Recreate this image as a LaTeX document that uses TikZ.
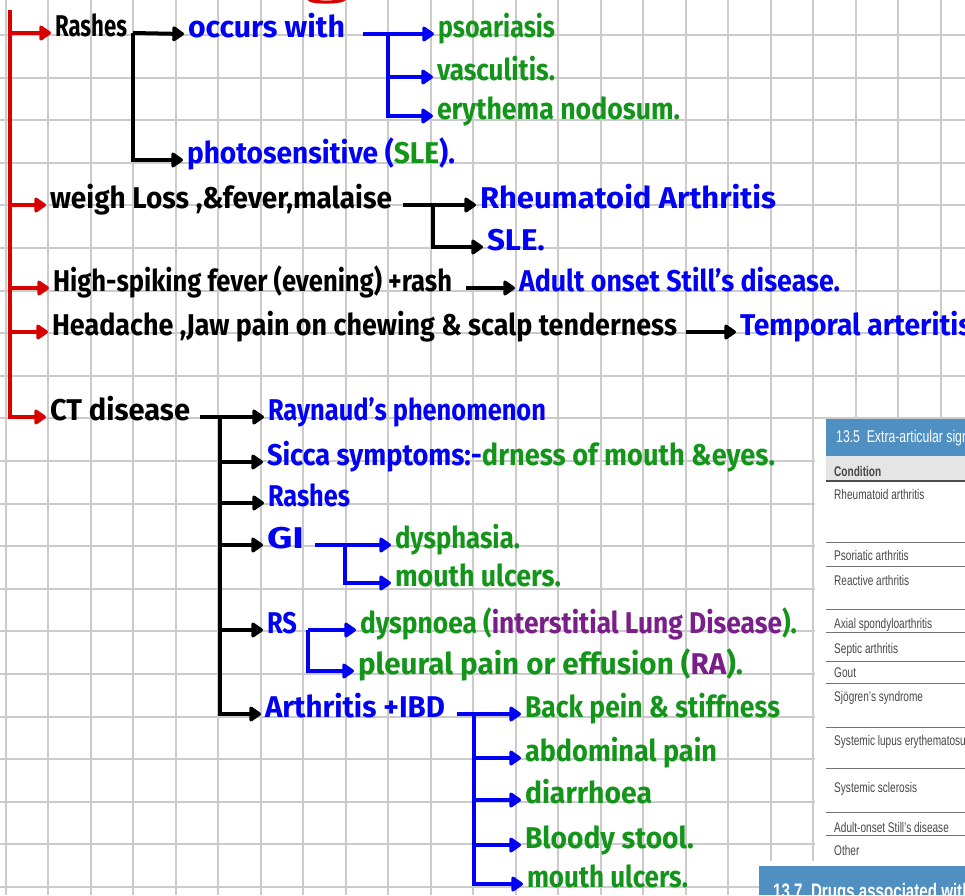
\documentclass[tikz,border=0pt]{standalone}
\usepackage{fontspec}
\usepackage{graphicx}
\usetikzlibrary{arrows.meta,calc,positioning}
\setmainfont{Fira Sans}
\newfontfamily\tablafont{Liberation Sans}[FakeStretch=0.72]
\definecolor{rojo}{HTML}{D90000}
\definecolor{azul}{HTML}{0000F5}
\definecolor{verde}{HTML}{13951A}
\definecolor{morado}{HTML}{7A1E8A}
\definecolor{rejilla}{HTML}{CBCBCB}
\definecolor{cabecera}{HTML}{4F8FC2}
\definecolor{tinta}{HTML}{474747}
\newcommand{\ancho}[2]{\resizebox{#1pt}{\height}{#2}}

\begin{document}
\begin{tikzpicture}[x=1pt, y=-1pt, >={Triangle[length=13pt,width=17pt,round]},
    texto/.style={anchor=west, inner sep=0pt, outer sep=4pt, text height=6pt, text depth=0pt,
                  font=\bfseries\fontsize{30}{32}\selectfont},
    flecha/.style={->, line width=4pt},
    roja/.style={->, line width=4pt, rojo},
    celda/.style={anchor=base west, inner sep=0pt, text=tinta,
                  font=\tablafont\fontsize{14}{16}\selectfont}]
  \useasboundingbox (0,0) rectangle (965,895);
  \clip (0,0) rectangle (965,895);
  \fill[white] (0,0) rectangle (965,895);
  % rejilla del cuaderno
  \foreach \i in {0,...,22}
    \draw[rejilla, line width=2pt] ({5.5+42.5*\i},0) -- ++(0,895);
  \foreach \j in {-1,...,20}
    \draw[rejilla, line width=2pt] (0,{35+42.6*\j}) -- ++(965,0);

  % recorte de la tabla 13.5
  \fill[white] (815,419) rectangle (965,863);
  \fill[cabecera] (826,419) rectangle (965,456);
  \fill[black!10] (826,456) rectangle (965,481);
  \node[celda, text=white, font=\tablafont\fontsize{17}{19}\selectfont] (t135) at (836,442) {13.5\ \ Extra-articular signs};
  \node[celda, font=\tablafont\bfseries\fontsize{14}{16}\selectfont] (tcond) at (834,476) {Condition};
  \draw[black!70, line width=1.2pt] (826,481) -- (965,481);
  \foreach \y in {542,566,609,632,661,683,727,768,812,835,863}
    \draw[black!55, line width=0.9pt] (826,\y) -- (965,\y);
  \foreach \y/\t [count=\k] in {499/Rheumatoid arthritis, 560/Psoriatic arthritis,
      585/Reactive arthritis, 628/Axial spondyloarthritis, 653/Septic arthritis,
      677/Gout, 701/Sjögren’s syndrome, 745/Systemic lupus erythematosus,
      792/Systemic sclerosis, 832/Adult-onset Still’s disease, 855/Other}
    \node[celda] (fila\k) at (834,\y) {\t};
  \fill[white] (757,861) rectangle (965,866);
  \fill[cabecera] (759,866) rectangle (965,895);
  \node[celda, text=white, font=\tablafont\bfseries\fontsize{21}{23}\selectfont] (t137) at (773,898) {13.7\ \ Drugs associated with};

  % titulo cortado
  \node[texto, anchor=base west, text=rojo] (titulo) at (303,-3) {\ancho{58}{g.}};

  % Rashes
  \node[texto] (rashes) at (51,33) {\ancho{72}{Rashes}};
  \node[texto, text=azul] (ocurre) at (184,34) {\ancho{157}{occurs with}};
  \node[texto, text=azul] (foto) at (183,160) {\ancho{268}{photosensitive (\textcolor{verde}{SLE}).}};
  \node[texto, text=verde] (psor) at (434,34) {\ancho{117}{psoariasis}};
  \node[texto, text=verde] (vascu) at (433,77) {\ancho{118}{vasculitis.}};
  \node[texto, text=verde] (eritema) at (433,116) {\ancho{243}{erythema nodosum.}};
  \draw[flecha] ([xshift=2pt]rashes.east) -- (ocurre.west);
  \draw[flecha] ([xshift=2pt]rashes.east) |- (foto.west);
  \draw[flecha, azul] ([xshift=14pt]ocurre.east) -- (psor.west);
  \draw[flecha, azul] ([xshift=39pt]ocurre.east) |- (vascu.west);
  \draw[flecha, azul] ([xshift=39pt]ocurre.east) |- (eritema.west);

  % fiebre y malestar
  \node[texto] (peso) at (46,205) {\ancho{342}{weigh Loss ,\&fever,malaise}};
  \node[texto, text=azul] (ar) at (476,205) {\ancho{296}{Rheumatoid Arthritis}};
  \node[texto, text=azul] (les) at (483,247) {\ancho{58}{SLE.}};
  \draw[flecha] ([xshift=7pt]peso.east) -- (ar.west);
  \draw[flecha] ([xshift=37pt]peso.east) |- (les.west);

  \node[texto] (fiebre) at (49,288) {\ancho{399}{High-spiking fever (evening) +rash}};
  \node[texto, text=azul] (still) at (515,288) {\ancho{321}{Adult onset Still's disease.}};
  \draw[flecha] ([xshift=10pt]fiebre.east) -- (still.west);

  \node[texto] (cefalea) at (48,332) {\ancho{625}{Headache ,Jaw pain on chewing \& scalp tenderness}};
  \node[texto, text=azul] (temporal) at (736,332) {\ancho{232}{Temporal arteritis}};
  \draw[flecha] ([xshift=5pt]cefalea.east) -- (temporal.west);

  % CT disease
  \node[texto] (ctd) at (46,417) {\ancho{140}{CT disease}};
  \node[texto, text=azul] (raynaud) at (264,417) {\ancho{278}{Raynaud's phenomenon}};
  \node[texto, text=azul] (sicca) at (263,462) {\ancho{508}{Sicca symptoms:-\textcolor{verde}{drness of mouth \&eyes.}}};
  \node[texto, text=azul] (erupcion) at (264,503) {\ancho{82}{Rashes}};
  \node[texto, text=azul] (gi) at (263,545) {\ancho{37}{GI}};
  \node[texto, text=verde] (disfagia) at (391,545) {\ancho{125}{dysphasia.}};
  \node[texto, text=verde] (ulceras) at (391,583) {\ancho{166}{mouth ulcers.}};
  \node[texto, text=azul] (rs) at (263,630) {\ancho{30}{RS}};
  \node[texto, text=verde] (disnea) at (356,630) {\ancho{437}{dyspnoea (\textcolor{morado}{interstitial Lung Disease}).}};
  \node[texto, text=verde] (pleura) at (354,671) {\ancho{385}{pleural pain or effusion (\textcolor{morado}{RA}).}};
  \node[texto, text=azul] (artr) at (261,714) {\ancho{180}{Arthritis +IBD}};
  \node[texto, text=verde] (espalda) at (521,714) {\ancho{255}{Back pein \& stiffness}};
  \node[texto, text=verde] (abdomen) at (521,758) {\ancho{192}{abdominal pain}};
  \node[texto, text=verde] (diarrea) at (521,800) {\ancho{127}{diarrhoea}};
  \node[texto, text=verde] (sangre) at (521,845) {\ancho{169}{Bloody stool.}};
  \node[texto, text=verde] (ulceras2) at (523,884) {\ancho{161}{mouth ulcers.}};

  \draw[flecha] ([xshift=6pt]ctd.east) -- (raynaud.west);
  \foreach \n in {sicca,erupcion,gi,rs,artr}
    \draw[flecha] ([xshift=26pt]ctd.east) |- (\n.west);
  \draw[flecha, azul] ([xshift=7pt]gi.east) -- (disfagia.west);
  \draw[flecha, azul] ([xshift=37pt]gi.east) |- (ulceras.west);
  \draw[flecha, azul] ([xshift=7pt]rs.east) -- (disnea.west);
  \draw[flecha, azul] ([xshift=7pt]rs.east) |- (pleura.west);
  \draw[flecha, azul] ([xshift=8pt]artr.east) -- (espalda.west);
  \foreach \n in {abdomen,diarrea,sangre,ulceras2}
    \draw[flecha, azul] ([xshift=25pt]artr.east) |- (\n.west);

  % tronco rojo
  \coordinate (tronco) at (10,10);
  \draw[roja] (tronco) |- (ctd.west);
  \foreach \n in {rashes,peso,fiebre,cefalea}
    \draw[roja] (tronco |- \n.west) -- (\n.west);
\end{tikzpicture}
\end{document}
